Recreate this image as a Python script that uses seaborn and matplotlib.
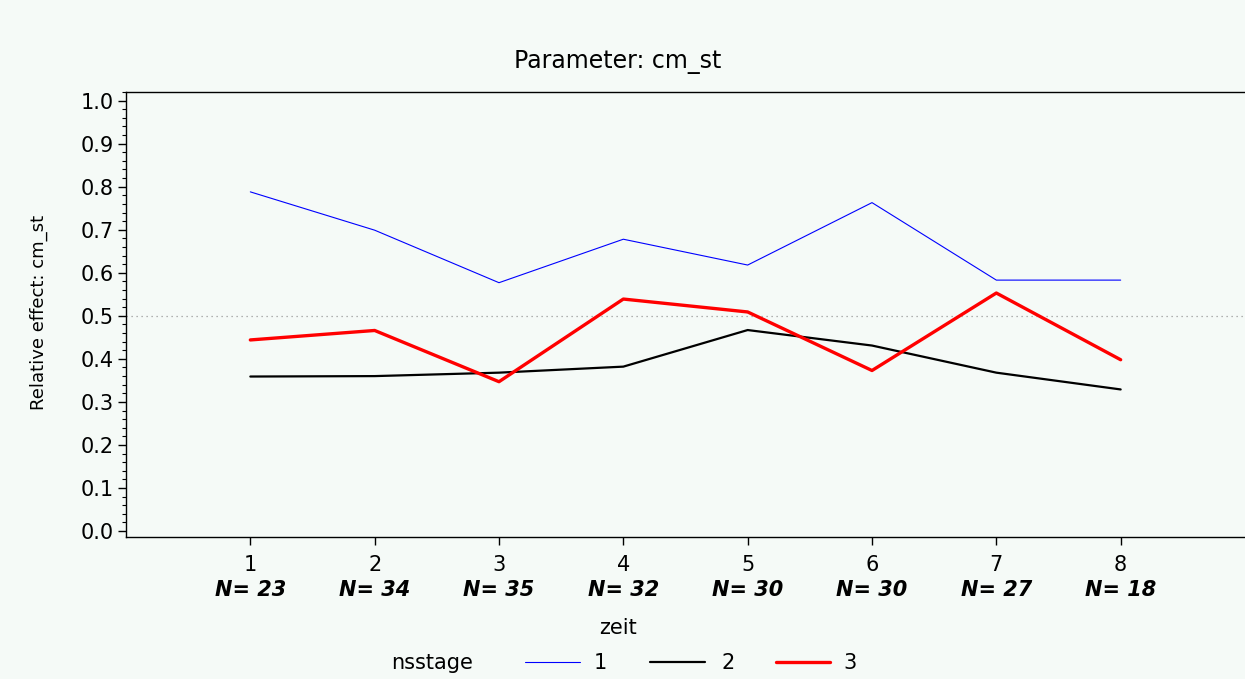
#!/usr/bin/env python3
"""Relative effect per zeit, split by nsstage."""

import matplotlib
matplotlib.use("Agg")
import matplotlib.pyplot as plt
from matplotlib.ticker import MultipleLocator
import pandas as pd
import seaborn as sns

zeit = [1, 2, 3, 4, 5, 6, 7, 8]
n_counts = [23, 34, 35, 32, 30, 30, 27, 18]
stage1 = [0.788, 0.699, 0.577, 0.678, 0.618, 0.763, 0.583, 0.583]
stage2 = [0.359, 0.360, 0.368, 0.382, 0.467, 0.431, 0.368, 0.329]
stage3 = [0.444, 0.466, 0.347, 0.539, 0.509, 0.373, 0.553, 0.398]
stages = ["1", "2", "3"]

BG = "#f5faf7"

df = pd.concat(
    [pd.DataFrame({"zeit": zeit, "effect": vals, "nsstage": s})
     for s, vals in zip(stages, [stage1, stage2, stage3])],
    ignore_index=True,
)

sns.set_style("ticks")
plt.rcParams["font.family"] = ["DejaVu Sans"]
plt.rcParams.update({"text.color": "black", "xtick.color": "black",
                     "ytick.color": "black", "axes.labelcolor": "black"})

fig = plt.figure(figsize=(12.45, 6.79), dpi=100, facecolor=BG)
ax = fig.add_axes([0.1012, 0.209, 0.8988, 0.6555], facecolor=BG)

ax.axhline(0.5, color="#999999", lw=0.9, ls=(0, (1, 3)), zorder=1)

sns.lineplot(
    data=df, x="zeit", y="effect", hue="nsstage", size="nsstage",
    palette={"1": "#0000ff", "2": "#000000", "3": "#ff0000"},
    sizes={"1": 0.8, "2": 1.6, "3": 2.4},
    ax=ax, legend=False, zorder=3,
)

ax.set_xlim(0, 9)
ax.set_ylim(-0.014, 1.02)
ax.yaxis.set_minor_locator(MultipleLocator(0.02))
ax.set_yticks([i / 10 for i in range(11)])
ax.set_yticklabels([f"{i / 10:.1f}" for i in range(11)], fontsize=15)
ax.set_xticks(zeit)
ax.set_xticklabels([str(z) for z in zeit], fontsize=15)
ax.tick_params(axis="y", which="major", length=6, width=1, pad=3)
ax.tick_params(axis="y", which="minor", length=3, width=0.8)
ax.tick_params(axis="x", length=6, width=1, pad=7)

for sp in ax.spines.values():
    sp.set_linewidth(1.0)
    sp.set_color("#000000")
ax.spines["right"].set_visible(False)

for z, n in zip(zeit, n_counts):
    ax.text(z, -0.12, f"N= {n}", transform=ax.get_xaxis_transform(),
            ha="center", va="center", fontsize=15, fontstyle="italic",
            fontweight="bold")

ax.set_xlabel("")
ax.set_ylabel("")
fig.text(0.031, 0.54, "Relative effect: cm_st", rotation=90,
         ha="center", va="center", fontsize=13)
fig.text(0.496, 0.075, "zeit", ha="center", va="center", fontsize=15)
fig.text(0.496, 0.908, "Parameter: cm_st", ha="center", va="center", fontsize=17)

# legend row
fig.text(0.347, 0.023, "nsstage", ha="center", va="center", fontsize=15)
leg_items = [(0.4217, "#0000ff", 0.8, 0.482),
             (0.522, "#000000", 1.6, 0.585),
             (0.623, "#ff0000", 2.4, 0.683)]
for (x0, col, lw, xl), lab in zip(leg_items, stages):
    fig.add_artist(plt.Line2D([x0, x0 + 0.044], [0.025, 0.025], color=col, lw=lw,
                              transform=fig.transFigure))
    fig.text(xl, 0.023, lab, ha="center", va="center", fontsize=15)

fig.savefig("out.png", dpi=100, facecolor=BG)
